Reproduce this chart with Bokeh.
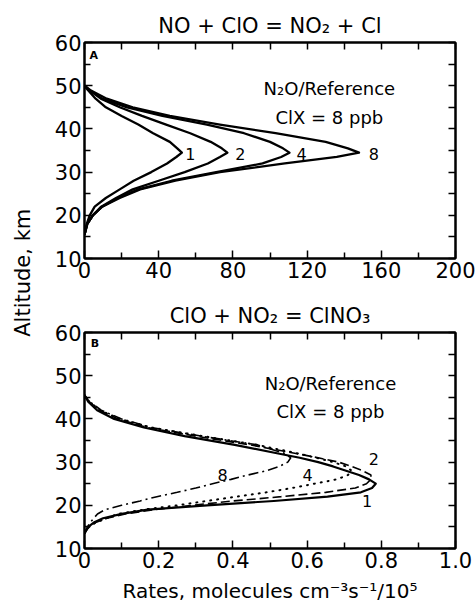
import math
from bokeh.plotting import figure
from bokeh.models import LinearAxis, FixedTicker, Range1d
from bokeh.layouts import row, column
from bokeh.embed import file_html
from bokeh.resources import INLINE
from bokeh.core.properties import value

FONT = "DejaVu Sans"

# ---------------- Panel A: NO + ClO = NO2 + Cl  (rates / 10^5) ----------------
alt_a = [15.5, 18, 20, 22, 24, 26, 28, 30, 32, 33.5, 34.5, 35.5, 37, 39, 41, 43, 45, 47, 49, 50]
rate_a1 = [0, 1.2, 2.8, 5.5, 11.5, 19, 26.5, 36, 44.5, 49.5, 52.5, 50, 46, 37, 29, 20, 11.5, 6, 1.8, 0]
rate_a2 = [0, 1.5, 4.5, 9, 17, 26, 40, 54, 66.5, 73, 77, 74, 68, 57, 44, 31, 19, 8.8, 2.5, 0]
rate_a4 = [0, 1.5, 4.5, 9.5, 18, 29, 47, 71, 96, 106, 110.5, 107, 100, 86, 66, 42, 23, 9.5, 2.5, 0]
rate_a8 = [0, 1.5, 4.5, 9.5, 19, 30, 49, 73, 108, 136, 148, 142, 130, 103, 73, 46, 26, 12, 3, 0]
labels_a = ["1", "2", "4", "8"]
label_a_x = [57, 84, 117, 156]
label_a_y = [34.2, 34.2, 34.2, 34.2]

# ---------------- Panel B: ClO + NO2 = ClNO3 (rates / 10^5) ----------------
alt_b = [13.5, 15, 16, 17, 18, 19, 20, 21, 22, 23, 24, 25, 26, 27, 28, 29, 30, 31, 32, 34, 36, 38, 40, 42, 44, 45.5]
rate_b1 = [0, 0.01, 0.025, 0.05, 0.1, 0.17, 0.33, 0.51, 0.655, 0.745, 0.775, 0.785, 0.767, 0.74, 0.705, 0.67, 0.63, 0.58, 0.522, 0.405, 0.27, 0.16, 0.08, 0.034, 0.01, 0]
rate_b2 = [0, 0.012, 0.03, 0.06, 0.11, 0.19, 0.29, 0.4, 0.53, 0.65, 0.73, 0.76, 0.772, 0.772, 0.75, 0.72, 0.685, 0.63, 0.57, 0.445, 0.30, 0.17, 0.09, 0.04, 0.012, 0]
rate_b4 = [0, 0.012, 0.03, 0.06, 0.09, 0.16, 0.25, 0.33, 0.41, 0.49, 0.56, 0.62, 0.68, 0.71, 0.72, 0.705, 0.67, 0.625, 0.575, 0.465, 0.32, 0.18, 0.095, 0.042, 0.013, 0]
rate_b8 = [0, 0.008, 0.015, 0.025, 0.035, 0.055, 0.1, 0.15, 0.195, 0.25, 0.3, 0.345, 0.395, 0.44, 0.49, 0.525, 0.548, 0.556, 0.54, 0.465, 0.315, 0.18, 0.1, 0.045, 0.014, 0]
labels_b = ["2", "8", "4", "1"]
label_b_x = [0.78, 0.372, 0.601, 0.762]
label_b_y = [30.8, 26.9, 26.9, 21.1]

ticks_a_major = [0, 40, 80, 120, 160, 200]
ticks_a_minor = [20, 60, 100, 140, 180]
ticks_b_major = [0, 0.2, 0.4, 0.6, 0.8, 1.0]
ticks_b_minor = [0.1, 0.3, 0.5, 0.7, 0.9]
tick_b_text = ["0", "0.2", "0.4", "0.6", "0.8", "1.0"]
ticks_y_major = [10, 20, 30, 40, 50, 60]
ticks_y_minor = [15, 25, 35, 45, 55]


def style_axis(ax, major, minor, labels=True):
    if labels:
        ax.ticker = FixedTicker(ticks=major, minor_ticks=minor)
    else:
        # unlabeled frame ticks (top / right): all drawn as minor ticks
        ax.ticker = FixedTicker(ticks=[], minor_ticks=sorted(major + minor))
    ax.axis_line_color = "black"
    ax.axis_line_width = 2
    ax.major_tick_line_color = "black"
    ax.major_tick_line_width = 1.5
    ax.minor_tick_line_color = "black"
    ax.minor_tick_line_width = 1.5
    ax.major_tick_in = 8
    ax.major_tick_out = 0
    ax.minor_tick_in = 6 if labels else 7
    ax.minor_tick_out = 0
    ax.major_label_text_font = FONT
    ax.major_label_text_color = "black"
    ax.major_label_text_font_size = "21px"
    ax.major_label_standoff = 3
    ax.axis_label_text_font = FONT
    ax.axis_label_text_font_style = "normal"
    ax.axis_label_text_color = "black"


def make_panel(title, xr, height, top_border, bottom_border, xmaj, xmin):
    p = figure(width=438, height=height, x_range=xr, y_range=Range1d(10, 60),
               output_backend="svg", toolbar_location=None,
               x_axis_location=None, y_axis_location=None,
               min_border_left=46, min_border_right=21,
               min_border_top=top_border, min_border_bottom=bottom_border)
    p.title.text = title
    p.title.align = "center"
    p.title.text_font = FONT
    p.title.text_font_size = "21px"
    p.title.text_font_style = "normal"
    p.title.text_color = "black"
    p.title.standoff = 9
    p.grid.visible = False
    p.outline_line_color = "black"
    p.outline_line_width = 2
    p.background_fill_color = "white"
    p.border_fill_color = "white"
    ax_bottom = LinearAxis()
    style_axis(ax_bottom, xmaj, xmin)
    p.add_layout(ax_bottom, "below")
    ax_left = LinearAxis()
    style_axis(ax_left, ticks_y_major, ticks_y_minor)
    p.add_layout(ax_left, "left")
    ax_top = LinearAxis()
    style_axis(ax_top, xmaj, xmin, labels=False)
    p.add_layout(ax_top, "above")
    ax_right = LinearAxis()
    style_axis(ax_right, ticks_y_major, ticks_y_minor, labels=False)
    p.add_layout(ax_right, "right")
    return p, ax_bottom


# ---- Panel A ----
pa, pa_x = make_panel("NO + ClO = NO₂ + Cl", Range1d(0, 200), 290, 42, 32,
                      ticks_a_major, ticks_a_minor)
for r in (rate_a1, rate_a2, rate_a4, rate_a8):
    pa.line(r, alt_a, line_color="black", line_width=2.3, line_join="round")
pa.text(x=label_a_x, y=label_a_y, text=labels_a, text_font=value(FONT),
        text_font_size="16px", text_align="center", text_baseline="middle",
        text_color="black")
pa.text(x=[132, 132], y=[49.4, 42.6], text=["N₂O/Reference", "ClX = 8 ppb"],
        text_font=value(FONT), text_font_size="18px", text_align="center",
        text_baseline="middle", text_color="black")
pa.text(x=[5], y=[57], text=["A"], text_font=value(FONT), text_font_size="11px",
        text_font_style="bold", text_align="center", text_baseline="middle",
        text_color="black")

# ---- Panel B ----
pb, pb_x = make_panel("ClO + NO₂ = ClNO₃", Range1d(0, 1.0), 326, 42, 68,
                      ticks_b_major, ticks_b_minor)
pb_x.major_label_overrides = dict(zip(ticks_b_major, tick_b_text))
pb_x.axis_label = "Rates, molecules cm⁻³s⁻¹/10⁵"
pb_x.axis_label_text_font_size = "20px"
pb_x.axis_label_standoff = 8
pb.line(rate_b1, alt_b, line_color="black", line_width=2.2, line_join="round")
pb.line(rate_b2, alt_b, line_color="black", line_width=1.6, line_dash="9 4")
pb.line(rate_b4, alt_b, line_color="black", line_width=2, line_dash="1 6",
        line_cap="round")
pb.line(rate_b8, alt_b, line_color="black", line_width=1.6, line_dash="10 4 2 4")
pb.text(x=label_b_x, y=label_b_y, text=labels_b, text_font=value(FONT),
        text_font_size="16px", text_align="center", text_baseline="middle",
        text_color="black")
pb.text(x=[0.663, 0.663], y=[48.2, 41.6], text=["N₂O/Reference", "ClX = 8 ppb"],
        text_font=value(FONT), text_font_size="18px", text_align="center",
        text_baseline="middle", text_color="black")
pb.text(x=[0.028], y=[57.5], text=["B"], text_font=value(FONT), text_font_size="11px",
        text_font_style="bold", text_align="center", text_baseline="middle",
        text_color="black")

# ---- shared y-axis label ----
lab = figure(width=38, height=616, x_range=Range1d(0, 1), y_range=Range1d(0, 1),
             output_backend="svg", toolbar_location=None,
             x_axis_type=None, y_axis_type=None,
             min_border_left=0, min_border_right=0, min_border_top=0, min_border_bottom=0)
lab.grid.visible = False
lab.outline_line_color = None
lab.text(x=[0.6], y=[0.558], text=["Altitude, km"], angle=math.pi / 2,
         text_font=value(FONT), text_font_size="21px", text_align="center",
         text_baseline="middle", text_color="black")

layout = row(lab, column(pa, pb))
open("out.html", "w").write(file_html(layout, INLINE))
